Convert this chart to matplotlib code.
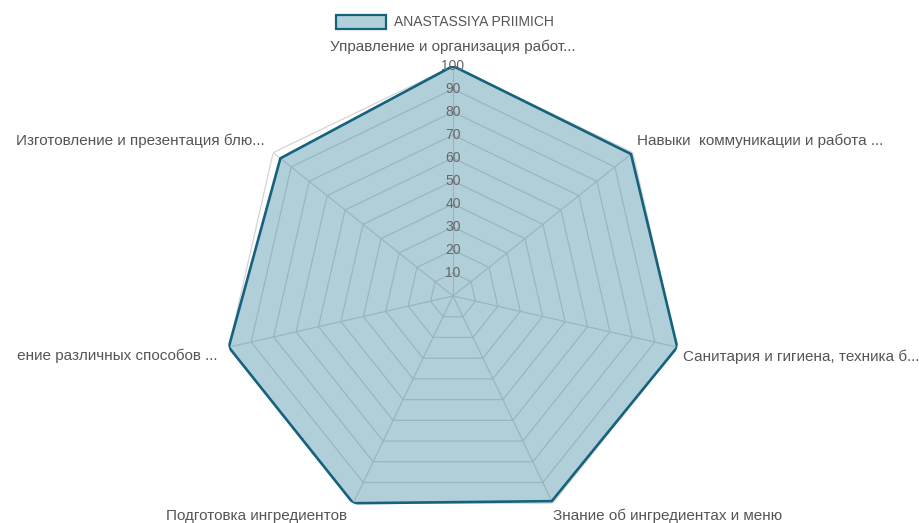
import numpy as np
import matplotlib
matplotlib.use("Agg")
import matplotlib.pyplot as plt
from matplotlib.patches import Patch
from matplotlib.transforms import Bbox, TransformedBbox

categories = [
    "Управление и организация работ...",
    "Навыки  коммуникации и работа ...",
    "Санитария и гигиена, техника б...",
    "Знание об ингредиентах и меню",
    "Подготовка ингредиентов",
    "Применение различных способов ...",
    "Изготовление и презентация блю...",
]
values = [100, 99, 100, 99, 100, 100, 96]
series_name = "ANASTASSIYA PRIIMICH"
tick_values = [10, 20, 30, 40, 50, 60, 70, 80, 90, 100]

plt.rcParams['font.family'] = ['Liberation Sans', 'DejaVu Sans']

W, H = 919, 523
fig = plt.figure(figsize=(W / 100, H / 100), dpi=100)
cx, cy, R = 453, 296, 230
ax = fig.add_axes([(cx - R) / W, (H - cy - R) / H, 2 * R / W, 2 * R / H], projection='polar')
ax.set_theta_zero_location('N')
ax.set_theta_direction(-1)
ax.set_ylim(0, 100)
ax.grid(False)
ax.set_xticks([])
ax.set_yticks([])
ax.spines['polar'].set_visible(False)
ax.patch.set_alpha(0)

n = len(categories)
theta = np.arange(n) * 2 * np.pi / n
theta_c = np.append(theta, theta[0])

grid_col = '#d4d4d4'
for v in tick_values:
    ax.plot(theta_c, [v] * (n + 1), color=grid_col, lw=0.9, zorder=1)
for t in theta:
    ax.plot([t, t], [0, 100], color=grid_col, lw=0.9, zorder=1)

vals_c = values + values[:1]
ax.fill(theta_c, vals_c, color='#3e89a2', alpha=0.4, zorder=2, lw=0)
ax.plot(theta_c, vals_c, color='#15627f', lw=1.9, zorder=3)

for v in tick_values:
    ax.text(0, v, str(v), ha='center', va='center', fontsize=10,
            color='#666666', zorder=4)

clip = TransformedBbox(Bbox.from_extents(16 / W, 0, 1, 1), fig.transFigure)
offsets = [(0, 19, 'center'), (4, 12, 'left'), (6, -10, 'left'), (0, -13, 'left'),
           (-6, -13, 'right'), (-11, -9, 'right'), (-9, 12, 'right')]
for t, lab, (dx, dy, ha) in zip(theta, categories, offsets):
    a = ax.annotate(lab, xy=(t, 100), xytext=(dx, dy), textcoords='offset pixels',
                    ha=ha, va='center', fontsize=11, color='#555555',
                    annotation_clip=False)
    a.set_clip_box(clip)
    a.set_clip_on(True)

handle = Patch(facecolor='#b2d0da', edgecolor='#15627f', lw=1.6)
fig.legend([handle], [series_name], loc='center', bbox_to_anchor=(445 / W, 1 - 22 / H),
           frameon=False, fontsize=10, handlelength=3.6, handleheight=1.2,
           labelcolor='#555555', handletextpad=0.6)

fig.savefig('out.png', dpi=100)
